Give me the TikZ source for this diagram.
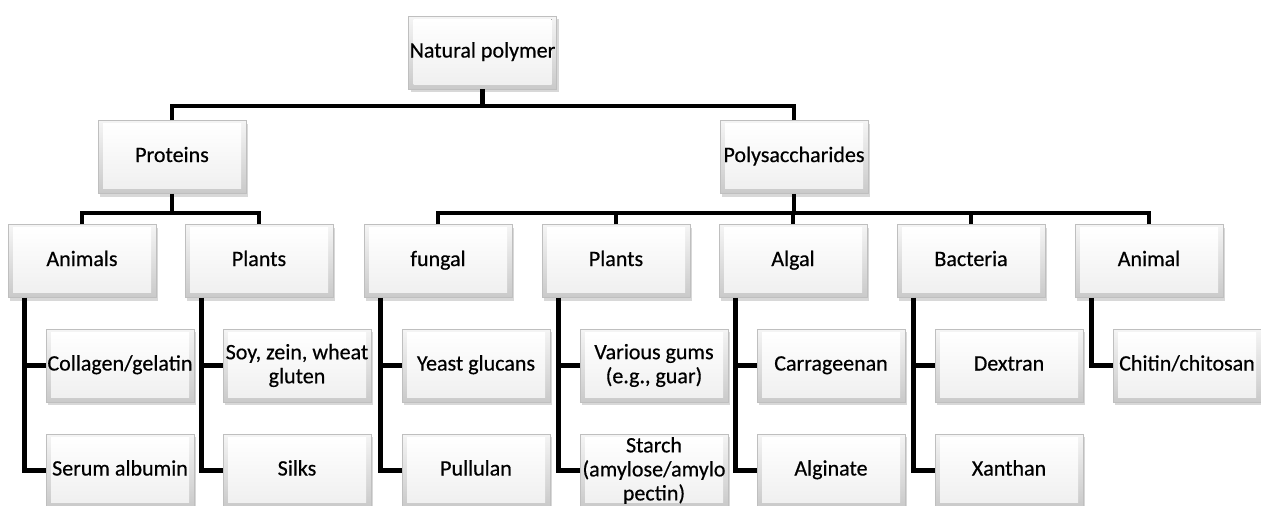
\documentclass[tikz,border=0pt]{standalone}
\usepackage{fontspec}
\setmainfont{Carlito}
\newfontfamily\boxfont{Carlito}[FakeBold=0.5]
\usetikzlibrary{shadows}
\tikzset{
  box/.style={rectangle, minimum width=148pt, minimum height=73pt, inner sep=0pt,
    align=center, font=\boxfont\fontsize{22}{24}\selectfont, draw=gray!50, line width=0.6pt,
    text height=15pt, text depth=5pt,
    drop shadow={shadow xshift=2pt, shadow yshift=-3pt, opacity=0.3, fill=gray},
    path picture={
      \fill[top color=gray!8, bottom color=gray!42]
        (path picture bounding box.south west) rectangle (path picture bounding box.north east);
      \fill[top color=white, bottom color=gray!12]
        ([shift={(5pt,-3pt)}]path picture bounding box.north west) rectangle
        ([shift={(-5pt,5pt)}]path picture bounding box.south east);
    }},
  multi/.style={text height={}, text depth={}},
  conn/.style={line width=4.6pt, black}
}
\begin{document}
\begin{tikzpicture}[x=1pt,y=-1pt]
\useasboundingbox[fill=white] (0,0) rectangle (1261,506);
% bar levels
\coordinate (b0) at (0,106);
\coordinate (b1) at (0,213);
% level 0/1
\node[box] (np) at (482.5,52.5) {Natural polymer};
\node[box] (prot) at (172,157) {Proteins};
\node[box] (pol) at (794,157) {Polysaccharides};
% level 2
\node[box] (anim) at (82,261) {Animals};
\node[box] (pplant) at (259,261) {Plants};
\node[box] (fung) at (438,261) {fungal};
\node[box] (splant) at (616,261) {Plants};
\node[box] (alg) at (793,261) {Algal};
\node[box] (bact) at (971,261) {Bacteria};
\node[box] (sanim) at (1149,261) {Animal};
% level 3
\node[box] (coll) at (120,365.5) {Collagen/gelatin};
\node[box] (serum) at (120,470.5) {Serum albumin};
\node[box,multi] (soy) at (297,365.5) {Soy, zein, wheat\\gluten};
\node[box] (silk) at (297,470.5) {Silks};
\node[box] (yeast) at (476,365.5) {Yeast glucans};
\node[box] (pull) at (476,470.5) {Pullulan};
\node[box,multi] (gums) at (654,365.5) {Various gums\\(e.g., guar)};
\node[box,multi] (starch) at (654,470.5) {Starch\\(amylose/amylo\\pectin)};
\node[box] (carr) at (831,365.5) {Carrageenan};
\node[box] (algi) at (831,470.5) {Alginate};
\node[box] (dext) at (1009,365.5) {Dextran};
\node[box] (xant) at (1009,470.5) {Xanthan};
\node[box] (chit) at (1187,365.5) {Chitin/chitosan};
% connectors level 0 -> 1
\draw[conn] (np.south) -- (np.south |- b0);
\draw[conn] (prot.north) |- (np.south |- b0);
\draw[conn] (pol.north) |- (np.south |- b0);
% proteins -> level 2
\draw[conn] (prot.south) -- (prot.south |- b1);
\draw[conn] (anim.north) |- (prot.south |- b1);
\draw[conn] (pplant.north) |- (prot.south |- b1);
% polysaccharides -> level 2
\draw[conn] (pol.south) -- (pol.south |- b1);
\foreach \n in {fung,splant,alg,bact,sanim}
  \draw[conn] (\n.north) |- (pol.south |- b1);
% spines
\foreach \p/\a/\b in {anim/coll/serum, pplant/soy/silk, fung/yeast/pull,
    splant/gums/starch, alg/carr/algi, bact/dext/xant} {
  \coordinate (spine-\p) at ([xshift=17pt]\p.south west);
  \draw[conn] (spine-\p) |- (\a.west);
  \draw[conn] (spine-\p) |- (\b.west);
}
\coordinate (spine-sanim) at ([xshift=17pt]sanim.south west);
\draw[conn] (spine-sanim) |- (chit.west);
\end{tikzpicture}
\end{document}
